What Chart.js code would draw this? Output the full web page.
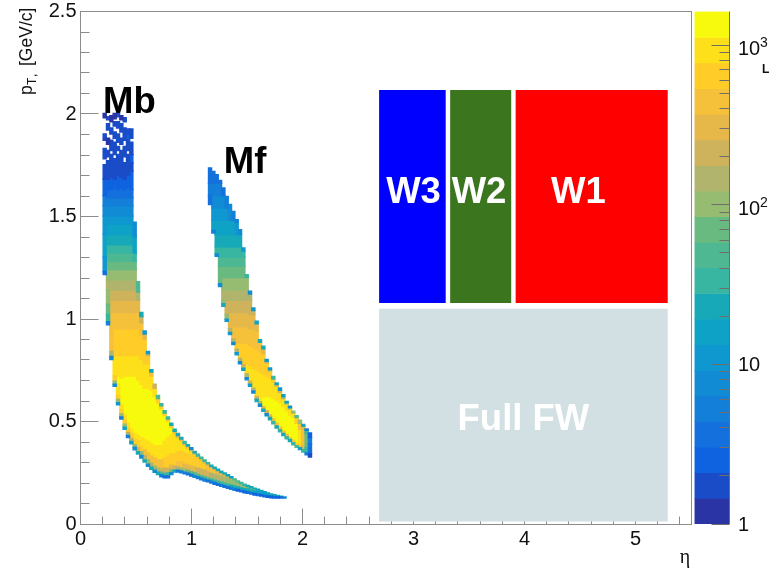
<!DOCTYPE html>
<html>
<head>
<meta charset="utf-8">
<style>
body { margin: 0; background: #fff; }
canvas { display: block; }
</style>
<script src="https://cdn.jsdelivr.net/npm/chart.js@4"></script>
</head>
<body>
<canvas id="chart" width="782" height="569"></canvas>
<script>
// Tick positions
const xMajorTicks = [0, 1, 2, 3, 4, 5];
const xMinorTicks = [0.2, 0.4, 0.6, 0.8, 1.2, 1.4, 1.6, 1.8, 2.2, 2.4, 2.6, 2.8, 3.2, 3.4, 3.6, 3.8, 4.2, 4.4, 4.6, 4.8, 5.2, 5.4];
const yMajorTicks = [0, 0.5, 1, 1.5, 2, 2.5];
const yMinorTicks = [0.1, 0.2, 0.3, 0.4, 0.6, 0.7, 0.8, 0.9, 1.1, 1.2, 1.3, 1.4, 1.6, 1.7, 1.8, 1.9, 2.1, 2.2, 2.3, 2.4];
const zMajorTicks = [1, 10, 100, 1000];
const zMinorTicks = [2, 3, 4, 5, 6, 7, 8, 9, 20, 30, 40, 50, 60, 70, 80, 90, 200, 300, 400, 500, 600, 700, 800, 900];
const zTickBases = ['1', '10', '10', '10'];
const zTickPowers = ['', '', '2', '3'];

// Colour levels, lowest first, and their edges on the z axis
const levelColors = ['#2a34a4', '#1a4cc8', '#0f62e0', '#1370dc', '#137fd8', '#118cd4', '#0f98d0', '#0ea3c6', '#17a9b8', '#38b6a2',
    '#4db891', '#68ba80', '#96bc72', '#b0b46c', '#cfb25c', '#e6b84a', '#f5c03a', '#ffcc28', '#fde01a', '#f8fa0d'];
const zEdges = [1, 1.447, 2.094, 3.03, 4.38, 6.34, 9.18, 13.28, 19.2, 27.8, 40.2, 58.2, 84.2, 121.8, 176, 255, 369, 534, 773, 1118, 1626];
const zBarEta = 5.69;

// Detector boxes
const boxNames = ['Full FW', 'W3', 'W2', 'W1'];
const boxColors = ['#d2e0e3', '#0000ff', '#3b761e', '#ff0000'];
const boxEtaLow = [2.69, 2.69, 3.33, 3.92];
const boxEtaHigh = [5.29, 3.29, 3.88, 5.29];
const boxPtLow = [0.012, 1.078, 1.078, 1.078];
const boxPtHigh = [1.05, 2.117, 2.117, 2.117];

// Big labels in the plot
const labelNames = ['Mb', 'Mf', 'W3', 'W2', 'W1', 'Full FW'];
const labelColors = ['#000', '#000', '#fff', '#fff', '#fff', '#fff'];
const labelEta = [0.441, 1.482, 3.0, 3.59, 4.486, 3.99];
const labelPt = [2.003, 1.712, 1.566, 1.566, 1.566, 0.459];

// Histogram columns: [eta, pT, level, pT, level, ..., pT]
// each level runs up to the next pT, level -1 is an empty stretch
const mbUpper = [0.95, 16, 1.03, 15, 1.09, 14, 1.14, 13, 1.19, 12, 1.24, 11, 1.28, 10, 1.32, 9, 1.36, 8, 1.41, 7, 1.46, 6, 1.50, 5, 1.55, 4, 1.59, 3];
const mbColumns = [
    [0.218, 1.215, 3, 1.23, 6, 1.30, 7, 1.41, 6, 1.50, 5, 1.55, 4, 1.60, 2, 1.68, 1, 1.75, -1, 1.78, 1, 1.83, -1, 1.87, 1, 1.90, -1, 1.98, 0, 2.0],
    [0.248, 0.97, 4, 0.985, 9, 1.02, 11, 1.07, 12, 1.14, 13, 1.19, 12, 1.24, 11, 1.28, 10, 1.32, 9, 1.36, 8, 1.41, 7, 1.46, 6, 1.50, 5, 1.55, 4, 1.59, 3, 1.63, 2, 1.68, 1, 1.77, -1, 1.79, 1, 1.82, -1, 1.85, 0, 1.88, -1, 1.92, 1, 1.95, -1, 1.97, 1, 1.985],
    [0.278, 0.80, 5, 0.815, 13, 0.84, 16, ...mbUpper, 1.63, 2, 1.69, 1, 1.80, -1, 1.82, 1, 1.87, -1, 1.90, 1, 1.93, -1, 1.96, 0, 1.99],
    [0.308, 0.67, 5, 0.68, 12, 0.695, 17, 0.72, 18, 0.82, 17, ...mbUpper, 1.64, 2, 1.68, 1, 1.78, -1, 1.80, 1, 1.86, -1, 1.88, 1, 1.91, -1, 1.94, 1, 1.96, -1, 1.975, 0, 2.0],
    [0.338, 0.58, 6, 0.59, 12, 0.605, 17, 0.625, 18, 0.68, 19, 0.72, 18, 0.82, 17, ...mbUpper, 1.63, 2, 1.70, 1, 1.80, -1, 1.82, 1, 1.84, -1, 1.86, 1, 1.90, -1, 1.93, 1, 1.96, -1, 1.985, 1, 2.0],
    [0.368, 0.51, 4, 0.52, 12, 0.535, 17, 0.555, 18, 0.58, 19, 0.71, 18, 0.82, 17, ...mbUpper, 1.64, 2, 1.69, 1, 1.82, -1, 1.85, 1, 1.88, -1, 1.91, 1, 1.95, -1, 1.97, 0, 1.99],
    [0.398, 0.46, 7, 0.47, 12, 0.485, 17, 0.505, 18, 0.53, 19, 0.72, 18, 0.82, 17, ...mbUpper, 1.63, 2, 1.68, 1, 1.76, -1, 1.79, 1, 1.84, -1, 1.87, 1, 1.93, -1, 1.96, 1, 1.98],
    [0.428, 0.42, 4, 0.43, 13, 0.445, 17, 0.465, 18, 0.49, 19, 0.72, 18, 0.82, 17, ...mbUpper, 1.64, 2, 1.70, 1, 1.80, -1, 1.82, 1, 1.87, 2, 1.90, 1, 1.925],
    [0.458, 0.39, 7, 0.40, 13, 0.415, 17, 0.44, 18, 0.46, 19, 0.72, 18, 0.82, 17, ...mbUpper, 1.63, 2, 1.72, 1, 1.76, 2, 1.80, 1, 1.86, -1, 1.88, 1, 1.925],
    [0.488, 0.36, 5, 0.372, 12, 0.385, 17, 0.41, 18, 0.44, 19, 0.72, 18, 0.82, 17, 0.95, 16, 1.03, 15, 1.09, 14, 1.14, 13, 1.19, 12, 1.24, 11, 1.28, 9, 1.32, 7, 1.40, 5, 1.47],
    [0.518, 0.34, 8, 0.35, 14, 0.37, 17, 0.40, 18, 0.43, 19, 0.70, 18, 0.82, 17, 0.95, 16, 1.03, 15, 1.09, 13, 1.13, 10, 1.18],
    [0.548, 0.32, 5, 0.332, 12, 0.35, 17, 0.375, 18, 0.42, 19, 0.68, 18, 0.80, 17, 0.92, 16, 0.98, 14, 1.01, 8, 1.03],
    [0.578, 0.30, 8, 0.31, 13, 0.33, 16, 0.36, 18, 0.41, 19, 0.66, 18, 0.78, 17, 0.90, 15, 0.925, 6, 0.94],
    [0.608, 0.28, 5, 0.29, 12, 0.31, 16, 0.345, 18, 0.40, 19, 0.66, 18, 0.78, 17, 0.82, 14, 0.83, 6, 0.84],
    [0.638, 0.265, 8, 0.275, 13, 0.295, 16, 0.33, 18, 0.39, 19, 0.65, 18, 0.72, 16, 0.74, 7, 0.75],
    [0.668, 0.25, 5, 0.26, 12, 0.28, 16, 0.32, 18, 0.38, 19, 0.62, 18, 0.66, 14, 0.68],
    [0.698, 0.24, 8, 0.25, 13, 0.27, 16, 0.31, 18, 0.38, 19, 0.59, 17, 0.61, 10, 0.625],
    [0.728, 0.228, 4, 0.238, 10, 0.25, 14, 0.265, 16, 0.31, 18, 0.38, 19, 0.56, 17, 0.575, 9, 0.585],
    [0.758, 0.224, 3, 0.232, 9, 0.245, 14, 0.27, 17, 0.32, 18, 0.40, 19, 0.53, 17, 0.54, 9, 0.55],
    [0.788, 0.224, 3, 0.232, 9, 0.247, 14, 0.27, 17, 0.33, 18, 0.42, 19, 0.50, 17, 0.51, 9, 0.52],
    [0.818, 0.24, 5, 0.248, 11, 0.26, 15, 0.285, 17, 0.34, 18, 0.43, 19, 0.47, 17, 0.48, 8, 0.49],
    [0.848, 0.252, 8, 0.26, 14, 0.28, 17, 0.34, 18, 0.44, 16, 0.45, 8, 0.46],
    [0.878, 0.252, 4, 0.26, 13, 0.275, 16, 0.30, 17, 0.35, 18, 0.42, 15, 0.43, 8, 0.44],
    [0.908, 0.248, 4, 0.256, 12, 0.27, 16, 0.30, 17, 0.35, 18, 0.405, 15, 0.412, 8, 0.42],
    [0.938, 0.243, 4, 0.251, 12, 0.265, 15, 0.29, 17, 0.345, 18, 0.385, 15, 0.392, 9, 0.40],
    [0.968, 0.238, 3, 0.246, 11, 0.26, 15, 0.285, 17, 0.34, 18, 0.37, 15, 0.378, 8, 0.385],
    [0.998, 0.232, 3, 0.24, 10, 0.253, 15, 0.28, 17, 0.335, 18, 0.355, 14, 0.362, 5, 0.37],
    [1.028, 0.226, 5, 0.234, 10, 0.247, 15, 0.275, 17, 0.325, 18, 0.34, 14, 0.346, 8, 0.352],
    [1.058, 0.22, 4, 0.228, 10, 0.24, 14, 0.27, 17, 0.32, 16, 0.33, 9, 0.338],
    [1.088, 0.214, 4, 0.222, 10, 0.234, 14, 0.265, 17, 0.31, 16, 0.318, 9, 0.324],
    [1.118, 0.208, 4, 0.216, 10, 0.228, 14, 0.26, 17, 0.295, 15, 0.304, 9, 0.31],
    [1.148, 0.204, 3, 0.212, 10, 0.222, 14, 0.25, 16, 0.285, 15, 0.292, 9, 0.297],
    [1.178, 0.198, 4, 0.206, 9, 0.218, 13, 0.245, 16, 0.275, 14, 0.28, 8, 0.285],
    [1.208, 0.192, 3, 0.20, 9, 0.212, 13, 0.24, 16, 0.265, 14, 0.27, 8, 0.275],
    [1.238, 0.187, 3, 0.195, 9, 0.207, 13, 0.235, 15, 0.257, 13, 0.26, 8, 0.265],
    [1.268, 0.182, 4, 0.19, 9, 0.202, 13, 0.228, 15, 0.247, 13, 0.25, 8, 0.255],
    [1.298, 0.177, 3, 0.185, 9, 0.197, 13, 0.222, 15, 0.24, 12, 0.243, 8, 0.247],
    [1.328, 0.172, 3, 0.18, 9, 0.192, 12, 0.218, 14, 0.232, 11, 0.235, 7, 0.238],
    [1.358, 0.168, 4, 0.175, 8, 0.187, 12, 0.21, 14, 0.222, 11, 0.225, 7, 0.228],
    [1.388, 0.163, 4, 0.17, 8, 0.182, 12, 0.205, 13, 0.214, 10, 0.218],
    [1.418, 0.159, 2, 0.166, 8, 0.178, 12, 0.198, 13, 0.204, 10, 0.208],
    [1.448, 0.155, 3, 0.162, 8, 0.174, 12, 0.195, 9, 0.20],
    [1.478, 0.151, 2, 0.158, 8, 0.17, 12, 0.187, 9, 0.192],
    [1.508, 0.148, 3, 0.155, 8, 0.167, 11, 0.182, 8, 0.186],
    [1.538, 0.144, 3, 0.15, 8, 0.162, 11, 0.176, 8, 0.18],
    [1.568, 0.14, 2, 0.147, 7, 0.158, 11, 0.17, 8, 0.173],
    [1.598, 0.137, 3, 0.144, 7, 0.155, 10, 0.164, 7, 0.167],
    [1.628, 0.134, 2, 0.141, 7, 0.152, 10, 0.158, 7, 0.161],
    [1.658, 0.131, 3, 0.138, 7, 0.149, 9, 0.153, 6, 0.155],
    [1.688, 0.128, 2, 0.135, 7, 0.146, 9, 0.15],
    [1.718, 0.126, 2, 0.133, 8, 0.145],
    [1.748, 0.125, 3, 0.132, 8, 0.141],
    [1.778, 0.125, 2, 0.131, 8, 0.137],
    [1.808, 0.125, 3, 0.13, 7, 0.134],
    [1.838, 0.125, 5, 0.13]
];
const mfColumns = [
    [1.167, 1.556, 3, 1.60, 4, 1.66, 3, 1.735],
    [1.197, 1.418, 4, 1.43, 7, 1.48, 6, 1.54, 5, 1.60, 4, 1.66, 3, 1.718],
    [1.227, 1.304, 5, 1.315, 9, 1.35, 8, 1.41, 7, 1.48, 6, 1.54, 5, 1.60, 4, 1.66, 3, 1.702],
    [1.257, 1.157, 5, 1.17, 11, 1.255, 10, 1.30, 9, 1.35, 8, 1.41, 7, 1.48, 6, 1.54, 5, 1.60, 4, 1.66, 3, 1.674],
    [1.287, 1.06, 8, 1.072, 12, 1.09, 13, 1.14, 12, 1.20, 11, 1.255, 10, 1.30, 9, 1.35, 8, 1.41, 7, 1.48, 6, 1.54, 5, 1.60, 3, 1.637],
    [1.317, 0.987, 6, 0.997, 12, 1.02, 14, 1.09, 13, 1.14, 12, 1.20, 11, 1.255, 10, 1.30, 9, 1.35, 8, 1.41, 7, 1.48, 6, 1.54, 4, 1.596],
    [1.347, 0.922, 6, 0.932, 13, 0.95, 15, 1.03, 14, 1.09, 13, 1.14, 12, 1.20, 11, 1.255, 10, 1.30, 9, 1.35, 8, 1.41, 7, 1.48, 5, 1.556],
    [1.377, 0.873, 5, 0.883, 13, 0.90, 16, 0.96, 15, 1.03, 14, 1.09, 13, 1.14, 12, 1.20, 11, 1.255, 10, 1.30, 9, 1.35, 8, 1.41, 7, 1.48, 4, 1.523],
    [1.407, 0.824, 6, 0.834, 13, 0.85, 17, 0.88, 16, 0.96, 15, 1.03, 14, 1.09, 13, 1.14, 12, 1.20, 11, 1.255, 10, 1.30, 9, 1.35, 8, 1.41, 6, 1.47, 4, 1.482],
    [1.437, 0.78, 5, 0.79, 13, 0.805, 17, 0.88, 16, 0.96, 15, 1.03, 14, 1.09, 13, 1.14, 12, 1.20, 11, 1.255, 10, 1.30, 9, 1.35, 8, 1.41, 5, 1.434],
    [1.467, 0.748, 7, 0.758, 14, 0.775, 17, 0.88, 16, 0.96, 15, 1.03, 14, 1.09, 13, 1.14, 12, 1.20, 11, 1.255, 10, 1.30, 9, 1.33, 6, 1.344],
    [1.497, 0.702, 5, 0.712, 13, 0.73, 18, 0.78, 17, 0.88, 16, 0.96, 15, 1.03, 14, 1.09, 13, 1.14, 12, 1.20, 9, 1.214],
    [1.527, 0.67, 7, 0.68, 14, 0.695, 18, 0.77, 17, 0.87, 16, 0.95, 15, 1.02, 14, 1.09, 13, 1.12, 5, 1.133],
    [1.557, 0.637, 5, 0.647, 13, 0.66, 18, 0.76, 17, 0.86, 16, 0.95, 15, 1.02, 14, 1.04, 6, 1.052],
    [1.587, 0.596, 8, 0.606, 14, 0.62, 18, 0.75, 17, 0.85, 16, 0.94, 15, 0.975, 7, 0.987],
    [1.617, 0.572, 5, 0.582, 13, 0.595, 18, 0.74, 17, 0.84, 16, 0.885, 8, 0.897],
    [1.647, 0.548, 8, 0.558, 15, 0.57, 19, 0.62, 18, 0.73, 17, 0.83, 15, 0.853, 8, 0.865],
    [1.677, 0.526, 5, 0.536, 14, 0.55, 19, 0.62, 18, 0.72, 17, 0.785, 14, 0.792, 6, 0.80],
    [1.707, 0.507, 8, 0.517, 15, 0.53, 19, 0.62, 18, 0.71, 17, 0.745, 12, 0.752, 6, 0.759],
    [1.737, 0.487, 9, 0.497, 16, 0.51, 19, 0.61, 18, 0.69, 17, 0.705, 9, 0.718],
    [1.767, 0.466, 8, 0.476, 16, 0.49, 19, 0.60, 18, 0.67, 15, 0.678, 7, 0.686],
    [1.797, 0.448, 9, 0.458, 16, 0.47, 19, 0.59, 18, 0.64, 14, 0.65, 6, 0.661],
    [1.827, 0.43, 8, 0.44, 16, 0.45, 19, 0.57, 18, 0.61, 13, 0.62, 7, 0.629],
    [1.857, 0.414, 9, 0.424, 16, 0.435, 19, 0.55, 18, 0.585, 12, 0.59, 7, 0.596],
    [1.887, 0.40, 8, 0.41, 17, 0.42, 19, 0.53, 18, 0.56, 12, 0.566, 5, 0.572],
    [1.917, 0.385, 9, 0.395, 17, 0.405, 19, 0.52, 18, 0.54, 12, 0.548],
    [1.947, 0.372, 10, 0.38, 17, 0.39, 19, 0.49, 17, 0.518, 10, 0.526],
    [1.977, 0.361, 7, 0.37, 16, 0.38, 18, 0.46, 16, 0.49, 12, 0.504],
    [2.007, 0.349, 9, 0.36, 15, 0.38, 16, 0.46, 15, 0.475, 8, 0.483],
    [2.037, 0.336, 4, 0.345, 9, 0.37, 11, 0.44, 9, 0.455, 4, 0.461],
    [2.067, 0.325, 1, 0.34, 3, 0.39, 4, 0.42, 2, 0.442]
];

const FRAME_GRAY = '#8c8c8c';
const FONT = '"Liberation Sans", Arial, sans-serif';

// One bar dataset per colour level, built from the columns
function histogramDatasets() {
    const cells = levelColors.map(() => []);
    [...mbColumns, ...mfColumns].forEach(col => {
        for (let k = 1; k + 2 < col.length; k += 2) {
            if (col[k + 1] >= 0) {
                cells[col[k + 1]].push({ x: col[0], y: [col[k], col[k + 2] + 0.004] });
            }
        }
    });
    return cells.map((data, i) => ({
        type: 'bar',
        data: data,
        backgroundColor: levelColors[i],
        barThickness: 3.8,
        grouped: false,
        order: 2
    }));
}

function boxDatasets() {
    return boxNames.map((name, i) => ({
        type: 'line',
        label: name,
        data: [
            { x: boxEtaLow[i], y: boxPtLow[i] },
            { x: boxEtaHigh[i], y: boxPtLow[i] },
            { x: boxEtaHigh[i], y: boxPtHigh[i] },
            { x: boxEtaLow[i], y: boxPtHigh[i] },
            { x: boxEtaLow[i], y: boxPtLow[i] }
        ],
        fill: 'shape',
        backgroundColor: boxColors[i],
        borderWidth: 0,
        pointRadius: 0,
        tension: 0,
        order: 1
    }));
}

function colorBarDataset() {
    return {
        type: 'bar',
        yAxisID: 'z',
        data: levelColors.map((c, i) => ({ x: zBarEta, y: [zEdges[i], zEdges[i + 1]] })),
        backgroundColor: levelColors,
        barThickness: 34.5,
        grouped: false,
        order: 3
    };
}

function crisp(v) {
    return Math.round(v - 0.5) + 0.5;
}

function line(ctx, x1, y1, x2, y2) {
    ctx.beginPath();
    ctx.moveTo(x1, y1);
    ctx.lineTo(x2, y2);
    ctx.stroke();
}

// Stop the tick labels from pushing the chart area around
function noScalePadding(scale) {
    scale.paddingLeft = 0;
    scale.paddingRight = 0;
    scale.paddingTop = 0;
    scale.paddingBottom = 0;
}

// Frame and inward ticks, ROOT style. They sit under the boxes.
const framePlugin = {
    id: 'frame',
    beforeDatasetsDraw(chart) {
        const { ctx, scales: { x, y } } = chart;
        const left = crisp(x.getPixelForValue(0));
        const right = crisp(x.getPixelForValue(5.5));
        const bottom = crisp(y.getPixelForValue(0));
        const top = crisp(y.getPixelForValue(2.5));
        ctx.save();
        ctx.strokeStyle = FRAME_GRAY;
        ctx.lineWidth = 1;
        ctx.strokeRect(left, top, right - left, bottom - top);
        xMajorTicks.forEach(v => {
            const px = crisp(x.getPixelForValue(v));
            line(ctx, px, bottom, px, bottom - 16);
        });
        xMinorTicks.forEach(v => {
            const px = crisp(x.getPixelForValue(v));
            line(ctx, px, bottom, px, bottom - 8);
        });
        yMajorTicks.forEach(v => {
            const py = crisp(y.getPixelForValue(v));
            line(ctx, left, py, left + 18, py);
        });
        yMinorTicks.forEach(v => {
            const py = crisp(y.getPixelForValue(v));
            line(ctx, left, py, left + 9, py);
        });
        ctx.restore();
    },
    afterDatasetsDraw(chart) {
        const { ctx, chartArea, scales: { x, y, z } } = chart;
        const barRight = crisp(chartArea.right);
        ctx.save();

        // colour bar axis
        ctx.strokeStyle = '#6e6e6e';
        ctx.lineWidth = 1;
        line(ctx, barRight, z.getPixelForValue(zEdges[20]), barRight, z.getPixelForValue(1));
        zMajorTicks.forEach(v => {
            const py = crisp(z.getPixelForValue(v));
            line(ctx, barRight, py, barRight - 18, py);
        });
        zMinorTicks.forEach(v => {
            const py = crisp(z.getPixelForValue(v));
            line(ctx, barRight, py, barRight - 10, py);
        });

        // colour bar labels, the powers of ten sit a bit lower than the tick
        ctx.fillStyle = '#111';
        ctx.textAlign = 'left';
        ctx.textBaseline = 'alphabetic';
        zMajorTicks.forEach((v, i) => {
            const py = z.getPixelForValue(v);
            ctx.font = '20px ' + FONT;
            ctx.fillText(zTickBases[i], 738, py + (zTickPowers[i] ? 10 : 7));
            if (zTickPowers[i]) {
                ctx.font = '14px ' + FONT;
                ctx.fillText(zTickPowers[i], 760, py + 2);
            }
        });

        // big labels
        ctx.textAlign = 'center';
        ctx.font = 'bold 36.5px ' + FONT;
        labelNames.forEach((name, i) => {
            ctx.fillStyle = labelColors[i];
            ctx.fillText(name, x.getPixelForValue(labelEta[i]), y.getPixelForValue(labelPt[i]));
        });

        // axis titles
        ctx.fillStyle = '#111';
        ctx.font = '20px "Liberation Serif", serif';
        ctx.fillText('η', 685, 563);

        ctx.translate(32, 95);
        ctx.rotate(-Math.PI / 2);
        ctx.textAlign = 'left';
        ctx.font = '17.5px ' + FONT;
        ctx.fillText('p', 0, 0);
        ctx.font = '12px ' + FONT;
        ctx.fillText('T', 10, 4);
        ctx.fillText(',', 18, 4);
        ctx.font = '17.5px ' + FONT;
        ctx.fillText('[GeV/c]', 29, 0);
        ctx.restore();

        // small mark next to the colour bar
        ctx.save();
        ctx.fillStyle = '#111';
        ctx.font = 'bold 12px ' + FONT;
        ctx.fillText('L', 762, 73);
        ctx.restore();
    }
};

new Chart(document.getElementById('chart').getContext('2d'), {
    data: {
        datasets: [...boxDatasets(), ...histogramDatasets(), colorBarDataset()]
    },
    plugins: [framePlugin],
    options: {
        responsive: false,
        animation: false,
        layout: { autoPadding: false, padding: { top: 11.5 } },
        plugins: {
            legend: { display: false },
            title: { display: false },
            tooltip: { enabled: false }
        },
        scales: {
            x: {
                type: 'linear',
                offset: false,
                min: 0,
                max: 5.842,
                afterBuildTicks: scale => { scale.ticks = xMajorTicks.map(value => ({ value })); },
                afterFit: scale => { scale.height = 45; noScalePadding(scale); },
                border: { display: false },
                grid: { display: false, drawTicks: false },
                ticks: {
                    autoSkip: false,
                    maxRotation: 0,
                    padding: 3,
                    color: '#111',
                    font: { family: FONT, size: 20 },
                    callback: v => String(v)
                }
            },
            y: {
                min: 0,
                max: 2.5,
                afterBuildTicks: scale => { scale.ticks = yMajorTicks.map(value => ({ value })); },
                afterFit: scale => { scale.width = 80.5; noScalePadding(scale); },
                border: { display: false },
                grid: { display: false, drawTicks: false },
                ticks: {
                    autoSkip: false,
                    padding: 4,
                    color: '#111',
                    font: { family: FONT, size: 20 },
                    callback: v => String(v)
                }
            },
            z: {
                type: 'logarithmic',
                position: 'right',
                min: 1,
                max: 1626,
                afterBuildTicks: scale => { scale.ticks = zMajorTicks.map(value => ({ value })); },
                afterFit: scale => { scale.width = 53; noScalePadding(scale); },
                border: { display: false },
                grid: { display: false, drawTicks: false },
                ticks: { display: false }
            }
        }
    }
});
</script>
</body>
</html>
